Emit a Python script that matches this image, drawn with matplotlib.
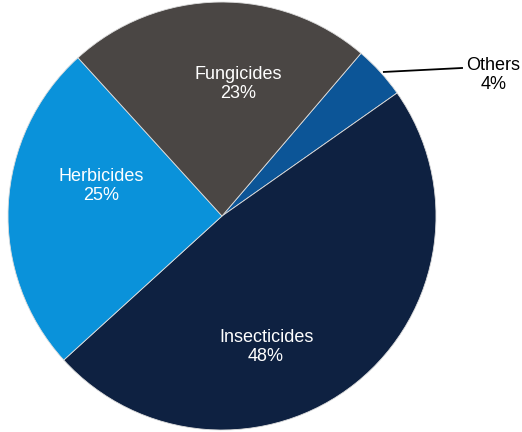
import matplotlib.pyplot as plt

plt.rcParams["font.family"] = ["Liberation Sans", "DejaVu Sans"]

# pesticide market share by category
categories = ["Others", "Insecticides", "Herbicides", "Fungicides"]
shares = [4, 48, 25, 23]
colors = ["#0C5597", "#0E2141", "#0A92DA", "#4A4644"]

# label anchor points (pie radius = 1)
label_pos = {
    "Fungicides": (0.075, 0.617),
    "Herbicides": (-0.565, 0.14),
    "Insecticides": (0.206, -0.612),
}

fig = plt.figure(figsize=(5.22, 4.32), dpi=100)
ax = fig.add_axes([0.0153, 0.0046, 0.820, 0.9907])

wedges, _ = ax.pie(
    shares,
    colors=colors,
    startangle=49.5,
    counterclock=False,
    radius=1,
    wedgeprops=dict(edgecolor="#dddddd", linewidth=0.6),
)

for name, share in zip(categories, shares):
    if name in label_pos:
        x, y = label_pos[name]
        ax.text(x, y, f"{name}\n{share}%", ha="center", va="center",
                color="white", fontsize=13, linespacing=1.12)

# leader line for the small slice
ax.plot([0.752, 1.126], [0.673, 0.692], color="black", lw=1.3,
        clip_on=False, solid_capstyle="butt")
ax.text(1.268, 0.659, f"{categories[0]}\n{shares[0]}%", ha="center",
        va="center", color="black", fontsize=13, linespacing=1.12)

ax.set_xlim(-1, 1)
ax.set_ylim(-1, 1)
ax.set_aspect("equal")
ax.axis("off")

fig.savefig("out.png", dpi=100)
